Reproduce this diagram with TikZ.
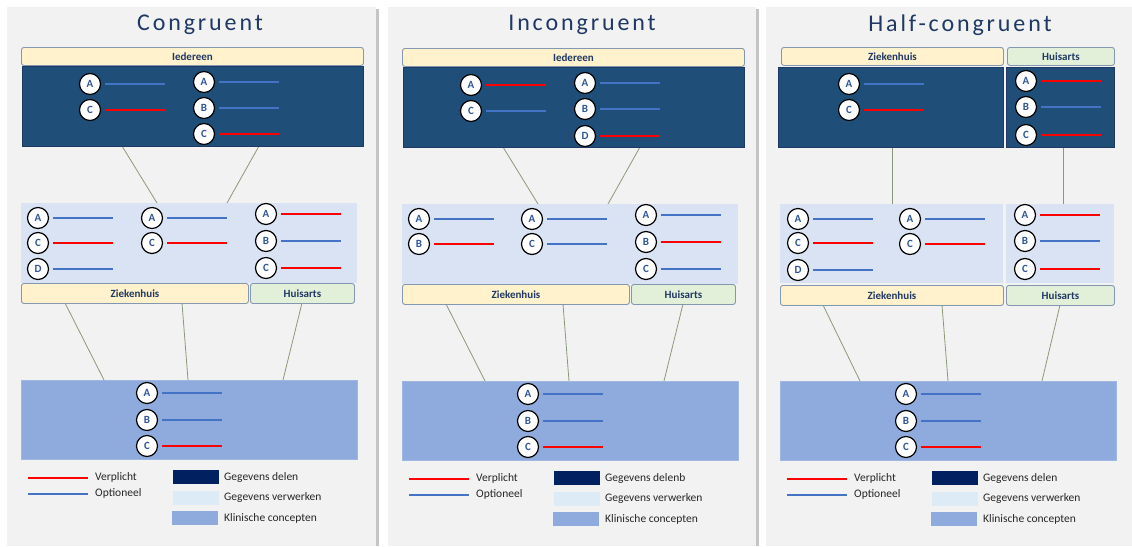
\documentclass[tikz,border=0pt]{standalone}
\usepackage{fontspec}
\setmainfont{Carlito}
\definecolor{panelgray}{HTML}{F2F2F2}
\definecolor{shadowgray}{HTML}{C4C4C4}
\definecolor{titleblue}{HTML}{1F3864}
\definecolor{labborder}{HTML}{8497B0}
\definecolor{yel}{HTML}{FFF2CC}
\definecolor{grn}{HTML}{E2F0D9}
\definecolor{darkfill}{HTML}{1F4E79}
\definecolor{darkborder}{HTML}{203864}
\definecolor{lightfill}{HTML}{DAE3F3}
\definecolor{midfill}{HTML}{8FAADC}
\definecolor{navy}{HTML}{002060}
\definecolor{legendlight}{HTML}{DDEBF7}
\definecolor{optblue}{HTML}{4472C4}
\definecolor{circtext}{HTML}{2F5597}
\definecolor{connline}{HTML}{8A9A78}
\definecolor{legtextc}{HTML}{262626}
\newcommand{\cc}[5]{\node[circ] (#1) at (#2,#3) {#4}; \draw[#5] ([xshift=4pt]#1.east) -- ++(60,0);}
\newcommand{\botleg}[2]{%
  \node[bbox, minimum width=336pt, minimum height=79pt, anchor=north west] (#1bot) at (21,380) {};
  \cc{#1ba}{147}{393}{A}{opt}
  \cc{#1bb}{147}{420}{B}{opt}
  \cc{#1bc}{147}{446}{C}{req}
  \coordinate (#1lr) at (28,478);
  \coordinate (#1lo) at (28,494);
  \draw[req] (#1lr) -- ++(60,0);
  \draw[opt] (#1lo) -- ++(60,0);
  \node[legtext] (#1tv) at (95,477) {Verplicht};
  \node[legtext] (#1to) at (95,493) {Optioneel};
  \node[sq, fill=navy] (#1s1) at (173,470) {};
  \node[sq, fill=legendlight] (#1s2) at (173,491) {};
  \node[sq, fill=midfill] (#1s3) at (172,511) {};
  \node[legtext] (#1t1) at (224,477) {#2};
  \node[legtext] (#1t2) at (224,497) {Gegevens verwerken};
  \node[legtext] (#1t3) at (224,518) {Klinische concepten};
}
\begin{document}
\begin{tikzpicture}[x=1pt,y=-1pt,
  title/.style={text=titleblue, font=\fontsize{24}{28}\selectfont\addfontfeatures{LetterSpace=12}},
  lab/.style={draw=labborder, line width=0.9pt, rounded corners=2.5pt, inner sep=0pt, anchor=north west,
    text=titleblue, font=\bfseries\fontsize{11}{12}\selectfont},
  dbox/.style={fill=darkfill, draw=darkborder, line width=0.8pt, inner sep=0pt, anchor=north west},
  lbox/.style={fill=lightfill, inner sep=0pt, anchor=north west},
  bbox/.style={fill=midfill, draw=midfill!85!white, line width=0.6pt, inner sep=0pt},
  circ/.style={circle, draw=black, line width=1.2pt, fill=white, minimum size=21pt, inner sep=0pt,
    text=circtext, font=\bfseries\fontsize{11}{12}\selectfont},
  req/.style={draw=red, line width=2.4pt},
  opt/.style={draw=optblue, line width=2pt},
  conn/.style={draw=connline, line width=0.8pt},
  legtext/.style={anchor=west, inner sep=0pt, text=legtextc, font=\fontsize{11.5}{13}\selectfont},
  sq/.style={anchor=north west, minimum width=46pt, minimum height=14pt, inner sep=0pt}]
\useasboundingbox (0,0) rectangle (1132,546);
\fill[white] (0,0) rectangle (1132,546);
% ---------- panels ----------
\fill[panelgray] (7,7) rectangle (376,546);
\fill[shadowgray] (376,9) rectangle (378.5,546);
\fill[panelgray] (388,7) rectangle (756,546);
\fill[shadowgray] (756,9) rectangle (758.5,546);
\fill[panelgray] (766,7) rectangle (1132,546);

% ================= Panel 1 =================
\node[title] (p1title) at (200,25) {Congruent};
\coordinate (p1k1) at (122,146); \coordinate (p1k2) at (157,203);
\coordinate (p1k3) at (259,146); \coordinate (p1k4) at (227,203);
\coordinate (p1k5) at (65,303);  \coordinate (p1k6) at (104,380);
\coordinate (p1k7) at (182,303); \coordinate (p1k8) at (188,380);
\coordinate (p1k9) at (302,303); \coordinate (p1k10) at (283,380);
\draw[conn] (p1k1) -- (p1k2);
\draw[conn] (p1k3) -- (p1k4);
\draw[conn] (p1k5) -- (p1k6);
\draw[conn] (p1k7) -- (p1k8);
\draw[conn] (p1k9) -- (p1k10);
\node[lab, fill=yel, minimum width=342pt, minimum height=18pt] (p1ied) at (21,47) {Iedereen};
\node[dbox, minimum width=341pt, minimum height=80pt] (p1top) at (22,66) {};
\cc{p1ta}{90}{84}{A}{opt}
\cc{p1tb}{90}{110}{C}{req}
\cc{p1tc}{204}{82}{A}{opt}
\cc{p1td}{204}{108}{B}{opt}
\cc{p1te}{204}{134}{C}{req}
\node[lbox, minimum width=336pt, minimum height=80pt] (p1mid) at (21,203) {};
\node[lab, fill=yel, minimum width=227pt, minimum height=20pt] (p1zh) at (21,283) {Ziekenhuis};
\node[lab, fill=grn, minimum width=104pt, minimum height=20pt] (p1ha) at (250,283) {Huisarts};
\cc{p1ma}{38}{218}{A}{opt}
\cc{p1mb}{38}{243}{C}{req}
\cc{p1mc}{38}{269}{D}{opt}
\cc{p1md}{152}{218}{A}{opt}
\cc{p1me}{152}{243}{C}{req}
\cc{p1mf}{266}{214}{A}{req}
\cc{p1mg}{266}{241}{B}{opt}
\cc{p1mh}{266}{268}{C}{req}
\botleg{p1}{Gegevens delen}

% ================= Panel 2 =================
\begin{scope}[xshift=381pt, yshift=-1pt]
\node[title] (p2title) at (201,24) {Incongruent};
\coordinate (p2k1) at (122,146); \coordinate (p2k2) at (157,203);
\coordinate (p2k3) at (259,146); \coordinate (p2k4) at (227,203);
\coordinate (p2k5) at (65,303);  \coordinate (p2k6) at (104,380);
\coordinate (p2k7) at (182,303); \coordinate (p2k8) at (188,380);
\coordinate (p2k9) at (302,303); \coordinate (p2k10) at (283,380);
\draw[conn] (p2k1) -- (p2k2);
\draw[conn] (p2k3) -- (p2k4);
\draw[conn] (p2k5) -- (p2k6);
\draw[conn] (p2k7) -- (p2k8);
\draw[conn] (p2k9) -- (p2k10);
\node[lab, fill=yel, minimum width=342pt, minimum height=18pt] (p2ied) at (21,47) {Iedereen};
\node[dbox, minimum width=341pt, minimum height=80pt] (p2top) at (22,66) {};
\cc{p2ta}{90}{84}{A}{req}
\cc{p2tb}{90}{110}{C}{opt}
\cc{p2tc}{204}{82}{A}{opt}
\cc{p2td}{204}{108}{B}{opt}
\cc{p2te}{204}{135}{D}{req}
\node[lbox, minimum width=336pt, minimum height=80pt] (p2mid) at (21,203) {};
\node[lab, fill=yel, minimum width=227pt, minimum height=20pt] (p2zh) at (21,283) {Ziekenhuis};
\node[lab, fill=grn, minimum width=104pt, minimum height=20pt] (p2ha) at (250,283) {Huisarts};
\cc{p2ma}{38}{218}{A}{opt}
\cc{p2mb}{38}{243}{B}{req}
\cc{p2md}{151}{218}{A}{opt}
\cc{p2me}{151}{243}{C}{opt}
\cc{p2mf}{265}{214}{A}{opt}
\cc{p2mg}{265}{241}{B}{req}
\cc{p2mh}{265}{268}{C}{opt}
\botleg{p2}{Gegevens delenb}
\end{scope}

% ================= Panel 3 =================
\begin{scope}[xshift=759pt]
\node[title] (p3title) at (201,25) {Half-congruent};
\coordinate (p3k1) at (133,147); \coordinate (p3k2) at (133,204);
\coordinate (p3k3) at (304,147); \coordinate (p3k4) at (304,204);
\coordinate (p3k5) at (64,305);  \coordinate (p3k6) at (101,381);
\coordinate (p3k7) at (183,305); \coordinate (p3k8) at (189,381);
\coordinate (p3k9) at (301,305); \coordinate (p3k10) at (283,381);
\draw[conn] (p3k1) -- (p3k2);
\draw[conn] (p3k3) -- (p3k4);
\draw[conn] (p3k5) -- (p3k6);
\draw[conn] (p3k7) -- (p3k8);
\draw[conn] (p3k9) -- (p3k10);
\node[lab, fill=yel, minimum width=222pt, minimum height=18pt] (p3zt) at (22,47) {Ziekenhuis};
\node[lab, fill=grn, minimum width=107pt, minimum height=18pt] (p3ht) at (248,47) {Huisarts};
\node[dbox, minimum width=225pt, minimum height=80pt] (p3top) at (19,67) {};
\node[dbox, minimum width=108pt, minimum height=80pt] (p3top2) at (247,67) {};
\cc{p3ta}{90}{84}{A}{opt}
\cc{p3tb}{90}{110}{C}{req}
\cc{p3tc}{267}{81}{A}{req}
\cc{p3td}{267}{107}{B}{opt}
\cc{p3te}{267}{135}{C}{req}
\node[lbox, minimum width=223pt, minimum height=79pt] (p3mid) at (21,204) {};
\node[lbox, minimum width=108pt, minimum height=79pt] (p3mid2) at (247,204) {};
\node[lab, fill=yel, minimum width=223pt, minimum height=20pt] (p3zh) at (21,285) {Ziekenhuis};
\node[lab, fill=grn, minimum width=108pt, minimum height=20pt] (p3ha) at (247,285) {Huisarts};
\cc{p3ma}{39}{219}{A}{opt}
\cc{p3mb}{39}{243}{C}{req}
\cc{p3mc}{39}{270}{D}{opt}
\cc{p3md}{151}{219}{A}{opt}
\cc{p3me}{151}{244}{C}{req}
\cc{p3mf}{266}{215}{A}{req}
\cc{p3mg}{266}{241}{B}{opt}
\cc{p3mh}{266}{269}{C}{req}
\begin{scope}[yshift=-1pt]
\botleg{p3}{Gegevens delen}
\end{scope}
\end{scope}
\end{tikzpicture}
\end{document}
